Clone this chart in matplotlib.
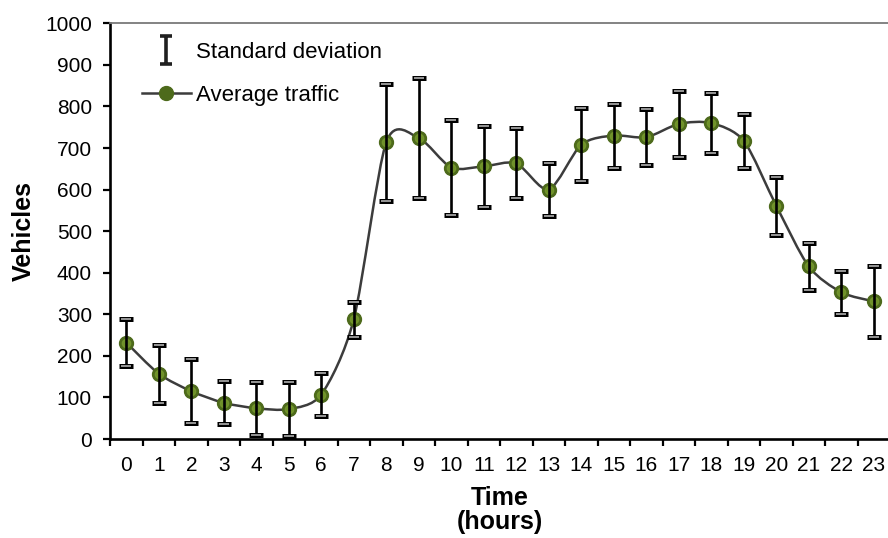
import numpy as np
import matplotlib
matplotlib.use("Agg")
import matplotlib.pyplot as plt
from matplotlib.path import Path
from matplotlib.patches import PathPatch
from matplotlib.lines import Line2D

plt.rcParams['font.family'] = ['Liberation Sans', 'DejaVu Sans']

# hourly traffic counts
hours = list(range(24))
hour_labels = [str(h) for h in hours]
avg_traffic = [232, 157, 115, 87, 74, 72, 107, 288, 714, 724, 653, 656,
               663, 600, 708, 730, 726, 758, 760, 717, 561, 415, 353, 331]
std_dev = [57, 70, 77, 52, 64, 65, 51, 42, 141, 145, 115, 98,
           84, 64, 88, 77, 68, 80, 72, 65, 70, 57, 52, 85]

GREEN_DARK = '#4d6a1b'
GREEN_LIGHT = '#779a2e'
LINE_GREY = '#3c3c3c'


def smooth_path(xs, ys, k=7.5):
    # cardinal-spline bezier through every point (like a "smoothed line")
    pts = np.column_stack([xs, ys]).astype(float)
    n = len(pts)
    verts = [pts[0]]
    codes = [Path.MOVETO]
    for i in range(n - 1):
        p0 = pts[max(i - 1, 0)]
        p1 = pts[i]
        p2 = pts[i + 1]
        p3 = pts[min(i + 2, n - 1)]
        c1 = p1 + (p2 - p0) / k
        c2 = p2 - (p3 - p1) / k
        verts += [c1, c2, p2]
        codes += [Path.CURVE4] * 3
    return Path(verts, codes)


fig = plt.figure(figsize=(8.88, 5.38), dpi=100)
ax = fig.add_axes([0.1239, 0.184, 0.8784, 0.7727])

x = np.arange(len(hours))

ax.add_patch(PathPatch(smooth_path(x, avg_traffic), fill=False,
                       edgecolor=LINE_GREY, lw=1.8, zorder=2))

# shaded ball markers
ax.plot(x, avg_traffic, 'o', ms=10, mfc=GREEN_DARK, mec=GREEN_DARK, zorder=3)
ax.plot(x, avg_traffic, 'o', ms=6, mfc=GREEN_LIGHT, mec=GREEN_LIGHT,
        alpha=0.8, zorder=3)

# error bars with hollow caps
ax.errorbar(x, avg_traffic, yerr=std_dev, fmt='none', ecolor='black',
            elinewidth=1.9, capsize=4.8, capthick=3.6, zorder=4)
lo = np.array(avg_traffic) - np.array(std_dev)
hi = np.array(avg_traffic) + np.array(std_dev)
for ends in (lo, hi):
    ax.plot(x, ends, '_', ms=7.0, mew=1.2, color='#b0b0b0', zorder=5)

ax.set_xlim(-0.5, 23.5)
ax.set_ylim(0, 1000)
ax.set_yticks(range(0, 1001, 100))
ax.set_xticks(x)
ax.set_xticklabels(hour_labels)
ax.set_xticks(np.arange(-0.5, 24, 1), minor=True)
ax.tick_params(axis='x', which='major', length=0, labelsize=15, pad=12)
ax.tick_params(axis='x', which='minor', length=5, width=1.6, direction='out')
ax.tick_params(axis='y', length=5, width=1.6, direction='out', labelsize=15, pad=8)

for s in ('left', 'bottom'):
    ax.spines[s].set_linewidth(1.9)
    ax.spines[s].set_color('black')
ax.spines['top'].set_color('#7a7a7a')
ax.spines['top'].set_linewidth(1.3)
ax.spines['right'].set_visible(False)

ax.set_ylabel('Vehicles', fontsize=18, fontweight='bold', labelpad=7)
ax.set_xlabel('Time\n(hours)', fontsize=18, fontweight='bold', labelpad=8,
              linespacing=1.0)

# legend
i_marker = Path([(-0.45, 1), (0.45, 1), (0, 1), (0, -1), (-0.45, -1), (0.45, -1)],
                [Path.MOVETO, Path.LINETO, Path.MOVETO, Path.LINETO,
                 Path.MOVETO, Path.LINETO])
sd_handle = Line2D([], [], linestyle='none', marker=i_marker, ms=20,
                   mew=2.6, color='#202020')
avg_handle = Line2D([], [], color=LINE_GREY, lw=1.8, marker='o', ms=10,
                    mfc=GREEN_DARK, mec=GREEN_DARK)
ax.legend([sd_handle, avg_handle], ['Standard deviation', 'Average traffic'],
          loc='upper left', bbox_to_anchor=(142 / 888, 1 - 42 / 538),
          bbox_transform=fig.transFigure, frameon=False, fontsize=16,
          handlelength=2.2, handletextpad=0.25, labelspacing=1.0,
          borderpad=0, borderaxespad=0)

fig.savefig('out.png', dpi=100)
